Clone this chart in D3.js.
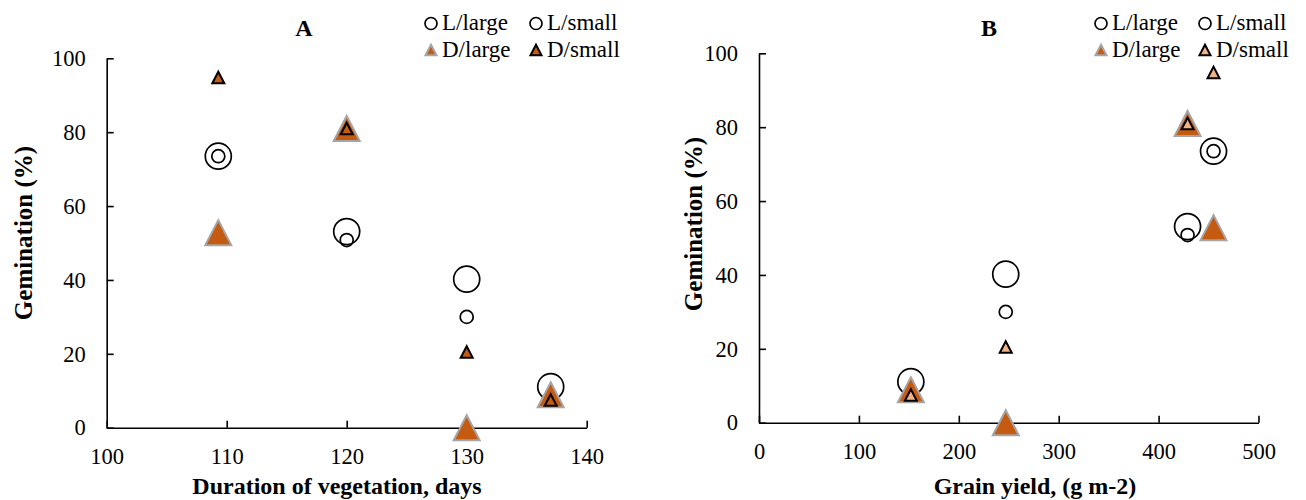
<!DOCTYPE html>
<html>
<head>
<meta charset="utf-8">
<script src="https://cdn.jsdelivr.net/npm/d3@7/dist/d3.min.js"></script>
<style>
  body { margin: 0; background: #fff; }
  svg { display: block; font-family: "Times New Roman", "Liberation Serif", serif; }
  .axis path, .axis line { stroke: #000; stroke-width: 1.6; }
  .axis text { font-size: 22.5px; fill: #000; font-family: "Times New Roman", "Liberation Serif", serif; }
</style>
</head>
<body>
<svg width="1306" height="500"></svg>
<script>
// ---- data ----
const durationDays = [109.3, 120, 130, 137];
const grainYield   = [455, 429, 247, 152];
const lLarge = [73.5, 53.1, 40.2, 11.1];
const lSmall = [73.5, 50.8, 30, 8];
const dLarge = [52.8, 81, 0, 8.9];
const dSmall = [94.8, 81, 20.5, 7.5];

const seriesNames = ["L/large", "L/small", "D/large", "D/small"];
const xTicksA = [100, 110, 120, 130, 140];
const xTicksB = [0, 100, 200, 300, 400, 500];
const yTicks  = [0, 20, 40, 60, 80, 100];

const svg = d3.select("svg");
const dark = "#C55A11", light = "#F4B183", grey = "#A5A5A5";

function tri(w, h) {
	return `M0,${-h/2}L${w/2},${h/2}L${-w/2},${h/2}Z`;
}

// marker styles per series, index matches seriesNames
function styles(smallFill) {
	return [
		{shape: "circle", r: 13, fill: "none", stroke: "#000", sw: 1.7},
		{shape: "circle", r: 6.5, fill: "none", stroke: "#000", sw: 1.7},
		{shape: "tri", w: 26, h: 25, fill: dark, stroke: grey, sw: 2},
		{shape: "tri", w: 12, h: 11.5, fill: smallFill, stroke: "#000", sw: 2}
	];
}

function drawMarker(g, st, x, y) {
	if (st.shape == "circle") {
		g.append("circle").attr("cx", x).attr("cy", y).attr("r", st.r)
			.attr("fill", st.fill).attr("stroke", st.stroke).attr("stroke-width", st.sw);
	} else {
		g.append("path").attr("d", tri(st.w, st.h))
			.attr("transform", `translate(${x},${y})`)
			.attr("fill", st.fill).attr("stroke", st.stroke).attr("stroke-width", st.sw)
			.attr("stroke-linejoin", "miter");
	}
}

function drawPanel(p) {
	const x = d3.scaleLinear().domain(p.xDomain).range(p.xRange);
	const y = d3.scaleLinear().domain([0, 100]).range(p.yRange);
	const g = svg.append("g");

	g.append("g").attr("class", "axis")
		.attr("transform", `translate(0,${p.yRange[0]})`)
		.call(d3.axisBottom(x).tickValues(p.xTicks).tickSizeInner(-7).tickSizeOuter(0).tickPadding(20));

	g.append("g").attr("class", "axis")
		.attr("transform", `translate(${p.xRange[0]},0)`)
		.call(d3.axisLeft(y).tickValues(yTicks).tickSizeInner(-7).tickSizeOuter(0).tickPadding(21));

	g.selectAll(".axis .domain").attr("stroke", "#000");

	const st = styles(p.smallFill);
	const series = [lLarge, lSmall, dLarge, dSmall];
	series.forEach((vals, i) => {
		const sg = g.append("g");
		vals.forEach((v, j) => drawMarker(sg, st[i], x(p.xValues[j]), y(v)));
	});

	// x title
	g.append("text").attr("x", p.xTitleX).attr("y", 494)
		.attr("text-anchor", "middle").attr("font-weight", "bold").attr("font-size", 24)
		.text(p.xTitle);
	// y title
	g.append("text")
		.attr("transform", `translate(${p.yTitleX},${p.yTitleY}) rotate(-90)`)
		.attr("text-anchor", "middle").attr("font-weight", "bold").attr("font-size", 25)
		.text("Gemination (%)");
	// panel letter
	g.append("text").attr("x", p.letterX).attr("y", 36)
		.attr("text-anchor", "middle").attr("font-weight", "bold").attr("font-size", 24)
		.text(p.letter);

	// legend
	const leg = g.append("g");
	const legSt = [
		{shape: "circle", r: 6, fill: "none", stroke: "#000", sw: 1.7},
		{shape: "circle", r: 6, fill: "none", stroke: "#000", sw: 1.7},
		{shape: "tri", w: 11, h: 10.5, fill: dark, stroke: grey, sw: 2},
		{shape: "tri", w: 11, h: 10.5, fill: p.smallFill, stroke: "#000", sw: 2}
	];
	seriesNames.forEach((name, i) => {
		const col = i % 2, row = Math.floor(i / 2);
		const mx = p.legX[col];
		const my = row == 0 ? 23.5 : 50;
		drawMarker(leg, legSt[i], mx, my);
		leg.append("text").attr("x", mx + 11).attr("y", row == 0 ? 30 : 56.5)
			.attr("font-size", 23).text(name);
	});
}

drawPanel({
	xValues: durationDays, xDomain: [100, 140], xRange: [106.7, 586.7], yRange: [427.7, 58.3],
	xTicks: xTicksA, smallFill: dark,
	xTitle: "Duration of vegetation, days", xTitleX: 337,
	yTitleX: 32, yTitleY: 233, letter: "A", letterX: 304, legX: [431, 536]
});

drawPanel({
	xValues: grainYield, xDomain: [0, 500], xRange: [759, 1258.5], yRange: [422.7, 53.3],
	xTicks: xTicksB, smallFill: light,
	xTitle: "Grain yield, (g m-2)", xTitleX: 1035,
	yTitleX: 702, yTitleY: 224, letter: "B", letterX: 989, legX: [1101, 1205]
});
</script>
</body>
</html>
